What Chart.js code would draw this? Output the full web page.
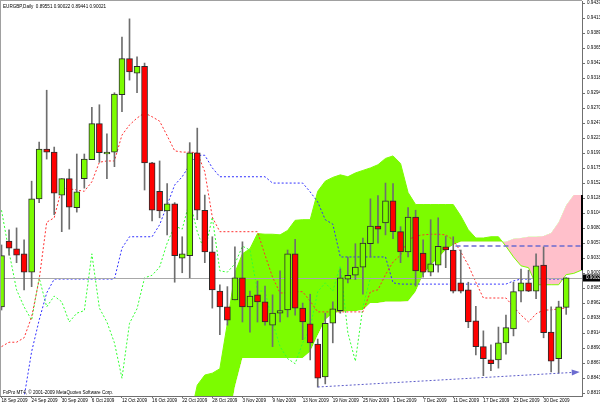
<!DOCTYPE html>
<html><head><meta charset="utf-8">
<script src="https://cdn.jsdelivr.net/npm/chart.js@4"></script>
<style>html,body{margin:0;padding:0;background:#fff}canvas{display:block}</style>
</head><body>
<canvas id="c" width="600" height="404"></canvas>
<script>
// ---- data ----
const dates = ["18 Sep 2009","21 Sep 2009","22 Sep 2009","23 Sep 2009","24 Sep 2009","25 Sep 2009","28 Sep 2009","29 Sep 2009","30 Sep 2009",
"1 Oct 2009","2 Oct 2009","5 Oct 2009","6 Oct 2009","7 Oct 2009","8 Oct 2009","9 Oct 2009","12 Oct 2009","13 Oct 2009","14 Oct 2009","15 Oct 2009","16 Oct 2009","19 Oct 2009","20 Oct 2009","21 Oct 2009","22 Oct 2009","23 Oct 2009","26 Oct 2009","27 Oct 2009","28 Oct 2009","29 Oct 2009","30 Oct 2009",
"2 Nov 2009","3 Nov 2009","4 Nov 2009","5 Nov 2009","6 Nov 2009","9 Nov 2009","10 Nov 2009","11 Nov 2009","12 Nov 2009","13 Nov 2009","16 Nov 2009","17 Nov 2009","18 Nov 2009","19 Nov 2009","20 Nov 2009","23 Nov 2009","24 Nov 2009","25 Nov 2009","26 Nov 2009","27 Nov 2009","30 Nov 2009",
"1 Dec 2009","2 Dec 2009","3 Dec 2009","4 Dec 2009","7 Dec 2009","8 Dec 2009","9 Dec 2009","10 Dec 2009","11 Dec 2009","14 Dec 2009","15 Dec 2009","16 Dec 2009","17 Dec 2009","18 Dec 2009","21 Dec 2009","22 Dec 2009","23 Dec 2009","24 Dec 2009","28 Dec 2009","29 Dec 2009","30 Dec 2009","31 Dec 2009",
"1 Jan 2010","4 Jan 2010"];

const opens = [0.8956,0.9060,0.9048,0.9040,0.9011,0.9127,0.9206,0.9201,0.9133,0.9159,0.9113,0.9159,0.9189,0.9246,0.9198,0.9201,0.9292,0.9349,0.9326,0.9337,
0.9184,0.9139,0.9108,0.9119,0.9033,0.9037,0.9200,0.9109,0.9043,0.8981,0.8956,0.8967,0.9002,0.8956,0.8975,0.8964,0.8927,0.8946,0.8951,0.9040,
0.8954,0.8929,0.8897,0.8845,0.8930,0.8950,0.9000,0.9006,0.9019,0.9056,0.9084,0.9089,0.9124,0.9075,0.9043,0.9098,0.9041,0.9011,0.9022,0.9051,
0.9046,0.8994,0.8983,0.8934,0.8893,0.8872,0.8872,0.8899,0.8921,0.8981,0.8994,0.8981,0.9022,0.8916,0.8874,0.89551];
const highs = [0.9054,0.9078,0.9081,0.9062,0.9155,0.9217,0.9299,0.9209,0.9159,0.9174,0.9198,0.9198,0.9272,0.9276,0.9230,0.9295,0.9383,0.9412,0.9352,0.9342,
0.9185,0.9187,0.9151,0.9121,0.9067,0.9216,0.9239,0.9133,0.9067,0.8991,0.8988,0.9051,0.9059,0.8981,0.8997,0.8989,0.8975,0.9013,0.9046,0.9063,
0.8962,0.8976,0.8905,0.8946,0.8964,0.9016,0.9035,0.9056,0.9065,0.9127,0.9132,0.9152,0.9151,0.9083,0.9113,0.9109,0.9062,0.9094,0.9097,0.9068,
0.9067,0.9046,0.8995,0.8957,0.8918,0.8896,0.8924,0.8943,0.8995,0.9016,0.9014,0.9040,0.9051,0.8956,0.8965,0.90022];
const lows = [0.8951,0.9038,0.9026,0.8983,0.8988,0.9121,0.9190,0.9102,0.9075,0.9079,0.9106,0.9144,0.9189,0.9185,0.9159,0.9178,0.9265,0.9315,0.9295,0.9141,
0.9092,0.9097,0.9070,0.8995,0.9010,0.9002,0.9094,0.9026,0.8954,0.8912,0.8927,0.8967,0.8932,0.8916,0.8932,0.8927,0.8893,0.8932,0.8940,0.8943,
0.8904,0.8872,0.8829,0.8834,0.8899,0.8946,0.8994,0.8999,0.8976,0.9035,0.9057,0.9070,0.9064,0.9026,0.9035,0.8989,0.9003,0.9005,0.9011,0.9018,
0.8978,0.8978,0.8923,0.8880,0.8847,0.8855,0.8859,0.8881,0.8910,0.8964,0.8980,0.8969,0.8907,0.8853,0.8851,0.89441];
const closes = [0.9037,0.9049,0.9038,0.9011,0.9127,0.9206,0.9201,0.9136,0.9159,0.9114,0.9138,0.9190,0.9246,0.9200,0.9201,0.9293,0.9349,0.9328,0.9337,0.9184,
0.9109,0.9108,0.9119,0.9037,0.9040,0.9200,0.9109,0.9043,0.8983,0.8956,0.8935,0.9002,0.8956,0.8973,0.8964,0.8932,0.8946,0.8950,0.9040,0.8954,
0.8932,0.8899,0.8843,0.8930,0.8953,0.9002,0.9006,0.9019,0.9057,0.9084,0.9079,0.9124,0.9075,0.9043,0.9098,0.9013,0.9011,0.9024,0.9052,0.9046,
0.8981,0.8981,0.8932,0.8893,0.8874,0.8866,0.8899,0.8923,0.8980,0.8994,0.8981,0.9021,0.8915,0.8870,0.8956,0.90021];

// Ichimoku lines (per bar)
const tenkan = [0.8893,0.8900,0.8900,0.8907,0.8940,0.8999,0.9090,0.9097,0.9144,0.9143,0.9141,0.9139,0.9154,0.9185,0.9187,0.9187,0.9228,0.9244,0.9255,0.9263,
0.9257,0.9250,0.9227,0.9203,0.9201,0.9201,0.9200,0.9170,0.9098,0.9075,0.9075,0.9075,0.9075,0.9075,0.9075,0.9038,0.9003,0.8978,0.8978,0.8980,
0.8980,0.8965,0.8948,0.8948,0.8948,0.8948,0.8948,0.8948,0.8948,0.8980,0.8983,0.9007,0.9027,0.9038,0.9062,0.9068,0.9070,0.9071,0.9071,0.9070,
0.9062,0.9043,0.9022,0.8995,0.8970,0.8970,0.8970,0.8970,0.8956,0.8943,0.8932,0.8945,0.8951,0.8951,0.8953,0.8954];
const kijun = [0.8737,0.8761,0.8785,0.8813,0.8885,0.8935,0.8978,0.9000,0.9000,0.9000,0.9000,0.9000,0.9000,0.9000,0.9000,0.9000,0.9049,0.9067,0.9067,0.9067,
0.9067,0.9086,0.9117,0.9149,0.9162,0.9181,0.9196,0.9196,0.9176,0.9162,0.9162,0.9162,0.9162,0.9162,0.9162,0.9162,0.9152,0.9152,0.9152,0.9152,
0.9152,0.9138,0.9122,0.9094,0.9087,0.9035,0.9035,0.9035,0.9035,0.9035,0.9035,0.9035,0.8994,0.8992,0.8992,0.8992,0.8992,0.8992,0.8992,0.8992,
0.8992,0.8992,0.8992,0.8992,0.8992,0.8992,0.8992,0.8992,0.8997,0.9000,0.9000,0.9000,0.9000,0.9000,0.9000,0.9000];
// lagging span, drawn from the first bar
const lagging = [0.9109,0.9043,0.8983,0.8956,0.8935,0.9002,0.8956,0.8973,0.8964,0.8932,0.8946,0.8950,0.9040,0.8954,0.8932,0.8899,0.8843,0.8930,0.8953,0.9002,
0.9006,0.9019,0.9057,0.9084,0.9079,0.9124,0.9075,0.9043,0.9098,0.9013,0.9011,0.9024,0.9052,0.9046,0.8981,0.8981,0.8932,0.8893,0.8874,0.8866,
0.8899,0.8923,0.8980,0.8994,0.8981,0.9021,0.8915,0.8870,0.8956,0.90021];
// cloud, from bar 25 to bar 77 (projected beyond the last candle)
const cloudFirstBar = 25;
const senkouA = [0.8777,0.8832,0.8848,0.8851,0.8858,0.8930,0.9010,0.9040,0.9048,0.9072,0.9071,0.9071,0.9070,0.9077,0.9093,0.9094,0.9094,0.9139,0.9155,0.9161,
0.9165,0.9162,0.9168,0.9172,0.9176,0.9181,0.9191,0.9195,0.9183,0.9137,0.9118,0.9118,0.9118,0.9118,0.9118,0.9118,0.9100,0.9078,0.9065,0.9065,
0.9067,0.9067,0.9052,0.9035,0.9021,0.9018,0.8991,0.8991,0.8991,0.8991,0.9007,0.9009,0.9014];
const senkouB = [0.8745,0.8745,0.8745,0.8745,0.8745,0.8761,0.8829,0.8875,0.8875,0.8875,0.8875,0.8875,0.8875,0.8875,0.8875,0.8875,0.8885,0.8911,0.8935,0.8946,
0.8948,0.8949,0.8949,0.8951,0.8962,0.8962,0.8964,0.8964,0.8964,0.8965,0.8980,0.9007,0.9022,0.9033,0.9046,0.9054,0.9059,0.9059,0.9059,0.9059,
0.9059,0.9059,0.9059,0.9064,0.9065,0.9067,0.9067,0.9068,0.9073,0.9090,0.9117,0.9133,0.9133];

// drawn objects: [bar, price]
const trendLine = [[42, 0.88291], [76.8, 0.88529]];
const resistance = [[60.3, 0.90524], [77.1, 0.90524]];

const priceTicks = ["0.94371","0.94133","0.93895","0.93658","0.93420","0.93183","0.92945","0.92708","0.92470","0.92233","0.91995","0.91758","0.91520","0.91283",
"0.91045","0.90808","0.90570","0.90333","0.90095","0.89858","0.89620","0.89383","0.89145","0.88908","0.88670","0.88433","0.88195"];

const symbolName = "EURGBP,Daily";
const copyright = "FxPro MT4, \u00a9 2001-2009 MetaQuotes Software Corp.";

// ---- chart ----
const BULL = '#7CFC00', BEAR = '#FF0000', PINK = '#FFC0CB';
const FONT = "'Liberation Sans', Arial, sans-serif";
const FS = 4.6;
const last = closes.length - 1;
const labelBars = dates.map((d, i) => i).filter(i => i % 4 === 0);
const ticksAsc = priceTicks.slice().reverse();

const xy = (arr, off) => arr.map((v, i) => ({x: i + off, y: v}));

const overlay = {
  id: 'overlay',
  beforeDatasetDraw(chart, args) {
    if (args.index !== 5) return;
    const {ctx, chartArea: a, scales: {y}} = chart;
    const py = Math.round(y.getPixelForValue(closes[last])) + 0.5;
    ctx.save();
    ctx.strokeStyle = '#a8a8a8'; ctx.lineWidth = 1;
    ctx.beginPath(); ctx.moveTo(a.left, py); ctx.lineTo(a.right, py); ctx.stroke();
    ctx.restore();
  },
  afterDatasetsDraw(chart) {
    const {ctx, chartArea: a, scales: {x, y}} = chart;
    ctx.save();
    ctx.beginPath(); ctx.rect(a.left, a.top, a.right - a.left, a.bottom - a.top); ctx.clip();
    ctx.strokeStyle = '#6b6bd0'; ctx.lineWidth = 1.6; ctx.setLineDash([5, 3]);
    const ry = y.getPixelForValue(resistance[0][1]);
    ctx.beginPath(); ctx.moveTo(x.getPixelForValue(resistance[0][0]), ry);
    ctx.lineTo(x.getPixelForValue(resistance[1][0]), ry); ctx.stroke();
    const x1 = x.getPixelForValue(trendLine[0][0]), y1 = y.getPixelForValue(trendLine[0][1]);
    const x2 = x.getPixelForValue(trendLine[1][0]), y2 = y.getPixelForValue(trendLine[1][1]);
    ctx.lineWidth = 1; ctx.setLineDash([2, 2]); ctx.strokeStyle = '#5a5ac8';
    ctx.beginPath(); ctx.moveTo(x1, y1); ctx.lineTo(x2 - 6, y2 + 0.4); ctx.stroke();
    ctx.setLineDash([]);
    const ang = Math.atan2(y2 - y1, x2 - x1);
    ctx.fillStyle = '#6b6bd0';
    ctx.beginPath();
    ctx.moveTo(x2, y2);
    ctx.lineTo(x2 - 8 * Math.cos(ang) + 3 * Math.sin(ang), y2 - 8 * Math.sin(ang) - 3 * Math.cos(ang));
    ctx.lineTo(x2 - 8 * Math.cos(ang) - 3 * Math.sin(ang), y2 - 8 * Math.sin(ang) + 3 * Math.cos(ang));
    ctx.closePath(); ctx.fill();
    ctx.restore();
    ctx.save();
    ctx.strokeStyle = '#000'; ctx.lineWidth = 2;
    const ea = y.getPixelForValue(senkouA[senkouA.length - 1]);
    const eb = y.getPixelForValue(senkouB[senkouB.length - 1]);
    ctx.beginPath(); ctx.moveTo(a.right, eb); ctx.lineTo(a.right, ea); ctx.stroke();
    ctx.restore();
  },
  afterDraw(chart) {
    const {ctx, chartArea: a, scales: {y}} = chart;
    ctx.save();
    ctx.strokeStyle = '#a0a0a0'; ctx.lineWidth = 1;
    ctx.beginPath(); ctx.moveTo(a.left, 0.5); ctx.lineTo(a.right, 0.5);
    ctx.moveTo(0.5, 0); ctx.lineTo(0.5, a.bottom); ctx.stroke();
    ctx.fillStyle = '#000';
    ctx.font = FS + 'px ' + FONT;
    ctx.textBaseline = 'alphabetic'; ctx.textAlign = 'left';
    const t = symbolName + '  ' + [opens[last], highs[last], lows[last], closes[last]].map(v => v.toFixed(5)).join(' ');
    ctx.fillText(t, 3, 8);
    ctx.fillText(copyright, 3, 394);
    const py = y.getPixelForValue(closes[last]);
    ctx.fillStyle = '#000';
    ctx.fillRect(a.right + 1, Math.round(py) - 3.5, 20, 7);
    ctx.fillStyle = '#fff'; ctx.textBaseline = 'middle';
    ctx.fillText(closes[last].toFixed(5), a.right + 4, py);
    ctx.restore();
  }
};

new Chart(document.getElementById('c'), {
  type: 'bar',
  data: {
    datasets: [
      {type: 'line', label: 'Senkou Span B', data: xy(senkouB, cloudFirstBar), borderColor: 'rgba(0,0,0,0)', borderWidth: 0, pointRadius: 0, fill: false, order: 10},
      {type: 'line', label: 'Senkou Span A', data: xy(senkouA, cloudFirstBar), borderColor: BULL, borderWidth: 1, pointRadius: 0,
        fill: {target: 0, above: BULL, below: PINK}, order: 9},
      {type: 'line', label: 'Tenkan-sen', data: xy(tenkan, 0), borderColor: '#ff3030', borderWidth: 1, borderDash: [2, 2], pointRadius: 0, fill: false, order: 5},
      {type: 'line', label: 'Kijun-sen', data: xy(kijun, 0), borderColor: '#3030ff', borderWidth: 1, borderDash: [2, 2], pointRadius: 0, fill: false, order: 5},
      {type: 'line', label: 'Chikou Span', data: xy(lagging, 0), borderColor: '#30ff30', borderWidth: 1, borderDash: [2, 2], pointRadius: 0, fill: false, order: 5},
      {type: 'bar', label: 'range', data: highs.map((h, i) => ({x: i, y: [lows[i], h]})), backgroundColor: '#6e6e6e',
        barThickness: 1, grouped: false, order: 2},
      {type: 'bar', label: 'body', data: opens.map((o, i) => ({x: i, y: [o, closes[i]]})),
        backgroundColor: closes.map((c, i) => c >= opens[i] ? BULL : BEAR),
        borderColor: '#2b2b2b', borderWidth: 1, borderSkipped: false, barThickness: 6, grouped: false, order: 1}
    ]
  },
  options: {
    responsive: false, animation: false, devicePixelRatio: 1, events: [],
    layout: {padding: {top: 1, left: 0, right: 0, bottom: 0}},
    plugins: {legend: {display: false}, tooltip: {enabled: false}},
    scales: {
      x: {
        type: 'linear', min: -0.2, max: 77.1, offset: false,
        grid: {display: true, drawOnChartArea: false, drawTicks: true, tickLength: 2, color: '#707070', offset: false},
        border: {display: true, color: '#707070'},
        ticks: {autoSkip: false, maxRotation: 0, minRotation: 0, align: 'start', padding: 0, color: '#000',
          font: {family: FONT, size: FS}, callback: v => dates[v] || ''},
        afterBuildTicks: s => { s.ticks = labelBars.map(v => ({value: v})); },
        afterFit: s => { s.height = 8; s.paddingLeft = 0; s.paddingRight = 0; }
      },
      y: {
        type: 'linear', position: 'right', min: 0.881485, max: 0.944027, beginAtZero: false,
        grid: {display: true, drawOnChartArea: false, drawTicks: true, tickLength: 3, color: '#707070'},
        border: {display: true, color: '#707070'},
        ticks: {autoSkip: false, padding: 2, color: '#000', font: {family: FONT, size: FS},
          callback: (v, i) => ticksAsc[i]},
        afterBuildTicks: s => { s.ticks = ticksAsc.map(t => ({value: parseFloat(t)})); },
        afterFit: s => { s.width = 18; s.paddingTop = 0; s.paddingBottom = 0; }
      }
    }
  },
  plugins: [overlay]
});
</script>
</body></html>
